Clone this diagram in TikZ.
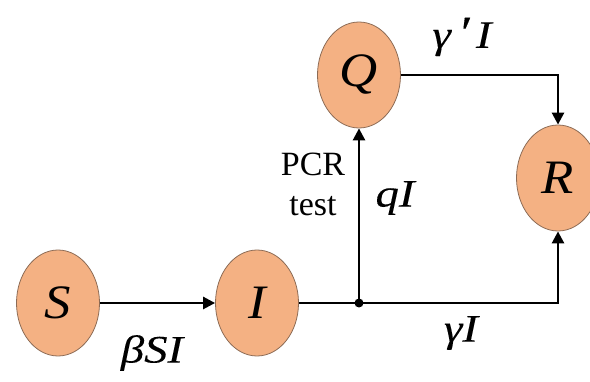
\documentclass[tikz,border=0pt]{standalone}
\usepackage{fontspec}
\setmainfont{Liberation Serif}
\newfontfamily\ratefont[FakeStretch=1.2,FakeBold=0.15]{Liberation Serif Italic}
\newfontfamily\letterfont[FakeStretch=1.1]{Liberation Serif Italic}
\usetikzlibrary{arrows.meta,shapes.geometric}
\definecolor{nodefill}{HTML}{F4B183}
\definecolor{nodeline}{HTML}{8C6B55}
\begin{document}
\begin{tikzpicture}[x=1pt,y=-1pt,
  state/.style={ellipse,draw=nodeline,line width=0.8pt,fill=nodefill,
    minimum width=83pt,minimum height=106pt,inner sep=0pt,
    font=\fontsize{48}{52}\selectfont\letterfont},
  flow/.style={line width=2.6pt,-{Triangle[length=12pt,width=12pt]}},
  plain/.style={line width=2.6pt},
  rate/.style={font=\fontsize{39}{42}\selectfont\ratefont,inner sep=0pt},
  note/.style={font=\fontsize{34}{40}\selectfont,align=center,inner sep=0pt}
]
\useasboundingbox (0,0) rectangle (590,382);
\node[state] (S) at (58,303) {S};
\node[state] (I) at (257,303) {I};
\node[state] (Q) at (359,75) {Q};
\node[state] (R) at (558,178) {R};
\coordinate (J) at (359,303);
\draw[flow] (S) -- (I);
\draw[plain] (I) -- (J);
\draw[flow] (J) -- (Q);
\draw[flow] (J) -| (R);
\draw[flow] (Q) -| (R);
\fill (J) circle (4.5pt);
\node[rate] (lbeta) at (152,353) {βSI};
\node[rate] (lgp) at (462,37) {γ\,{\fontsize{46}{46}\selectfont ′}\,I};
\node[rate] (lq) at (395,198) {qI};
\node[rate] (lg) at (461,333) {γI};
\node[note] (pcr) at (313,184) {PCR\\test};
\end{tikzpicture}
\end{document}
